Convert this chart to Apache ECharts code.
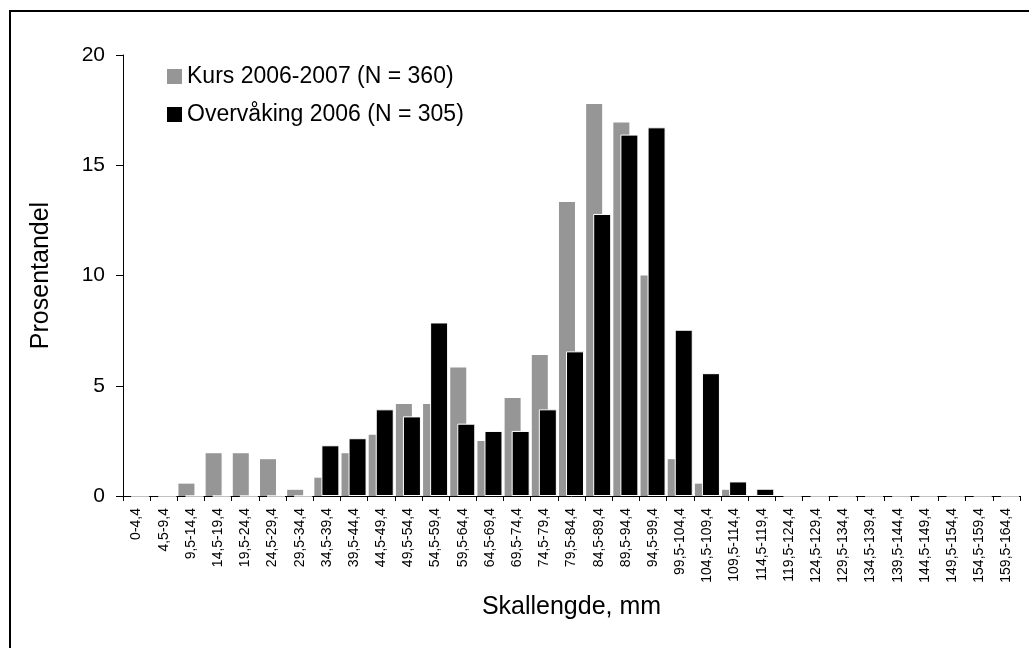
<!DOCTYPE html>
<html>
<head>
<meta charset="utf-8">
<script src="https://cdn.jsdelivr.net/npm/echarts@6/dist/echarts.min.js"></script>
<style>
  html, body { margin: 0; padding: 0; background: #fff; }
  #chart { width: 1029px; height: 648px; }
</style>
</head>
<body>
<div id="chart"></div>
<script>
// Lengdefordeling, prosent per 5 mm klasse
let klasser = [
    '0-4,4', '4,5-9,4', '9,5-14,4', '14,5-19,4', '19,5-24,4', '24,5-29,4',
    '29,5-34,4', '34,5-39,4', '39,5-44,4', '44,5-49,4', '49,5-54,4', '54,5-59,4',
    '59,5-64,4', '64,5-69,4', '69,5-74,4', '74,5-79,4', '79,5-84,4', '84,5-89,4',
    '89,5-94,4', '94,5-99,4', '99,5-104,4', '104,5-109,4', '109,5-114,4', '114,5-119,4',
    '119,5-124,4', '124,5-129,4', '129,5-134,4', '134,5-139,4', '139,5-144,4',
    '144,5-149,4', '149,5-154,4', '154,5-159,4', '159,5-164,4'
];
let kurs = [
    0, 0, 0.56, 1.94, 1.94, 1.67, 0.28, 0.83, 1.94, 2.78, 4.17, 4.17,
    5.83, 2.5, 4.44, 6.39, 13.33, 17.78, 16.94, 10, 1.67, 0.56, 0.28, 0,
    0, 0, 0, 0, 0, 0, 0, 0, 0
];
let overvaking = [
    0, 0, 0, 0, 0, 0, 0, 2.3, 2.62, 3.93, 3.61, 7.87,
    3.28, 2.95, 2.95, 3.93, 6.56, 12.79, 16.39, 16.72, 7.54, 5.57, 0.66, 0.33,
    0, 0, 0, 0, 0, 0, 0, 0, 0
];
let yTicks = [0, 5, 10, 15, 20];

let chart = echarts.init(document.getElementById('chart'));
let fontName = 'Liberation Sans, Arial, sans-serif';

let option = {
    animation: false,
    textStyle: { fontFamily: fontName, color: '#000' },

    // ramme rundt figuren
    graphic: [
        {
            type: 'rect',
            shape: { x: 10, y: 11, width: 2000, height: 2000 },
            style: { fill: 'none', stroke: '#000', lineWidth: 2 },
            silent: true,
        },
    ],

    legend: {
        orient: 'vertical',
        left: 162,
        top: 60,
        itemWidth: 15,
        itemHeight: 15,
        itemGap: 15,
        icon: 'rect',
        textStyle: { fontSize: 23, color: '#000', fontFamily: fontName },
        itemStyle: { borderWidth: 0 },
        data: ['Kurs 2006-2007 (N = 360)', 'Overvåking 2006 (N = 305)'],
    },

    grid: { left: 123, right: 9, top: 55, bottom: 152 },

    xAxis: {
        type: 'category',
        data: klasser,
        name: 'Skallengde, mm',
        nameLocation: 'middle',
        nameGap: 99,
        nameTextStyle: { fontSize: 25, color: '#000', fontFamily: fontName },
        axisLine: { lineStyle: { color: '#000', width: 1 } },
        axisTick: { show: true, length: 5, lineStyle: { color: '#000' } },
        axisLabel: {
            rotate: 90,
            interval: 0,
            margin: 12,
            fontSize: 14,
            color: '#000',
            fontFamily: fontName,
        },
    },

    yAxis: {
        type: 'value',
        min: yTicks[0],
        max: yTicks[yTicks.length - 1],
        interval: 5,
        name: 'Prosentandel',
        nameLocation: 'middle',
        nameGap: 69,
        nameTextStyle: { fontSize: 25, color: '#000', fontFamily: fontName },
        axisLine: { show: true, lineStyle: { color: '#000', width: 1 } },
        axisTick: { show: true, length: 7, lineStyle: { color: '#000' } },
        axisLabel: { margin: 18, fontSize: 21, color: '#000', fontFamily: fontName },
        splitLine: { show: false },
    },

    series: [
        {
            name: 'Kurs 2006-2007 (N = 360)',
            type: 'bar',
            data: kurs,
            barWidth: 16,
            barGap: '-56%',
            itemStyle: { color: '#969696' },
        },
        {
            name: 'Overvåking 2006 (N = 305)',
            type: 'bar',
            data: overvaking,
            barWidth: 18,
            itemStyle: { color: '#000', borderColor: '#fff', borderWidth: 1 },
        },
    ],
};

chart.setOption(option);

window.addEventListener('resize', function () {
    chart.resize();
});
</script>
</body>
</html>
